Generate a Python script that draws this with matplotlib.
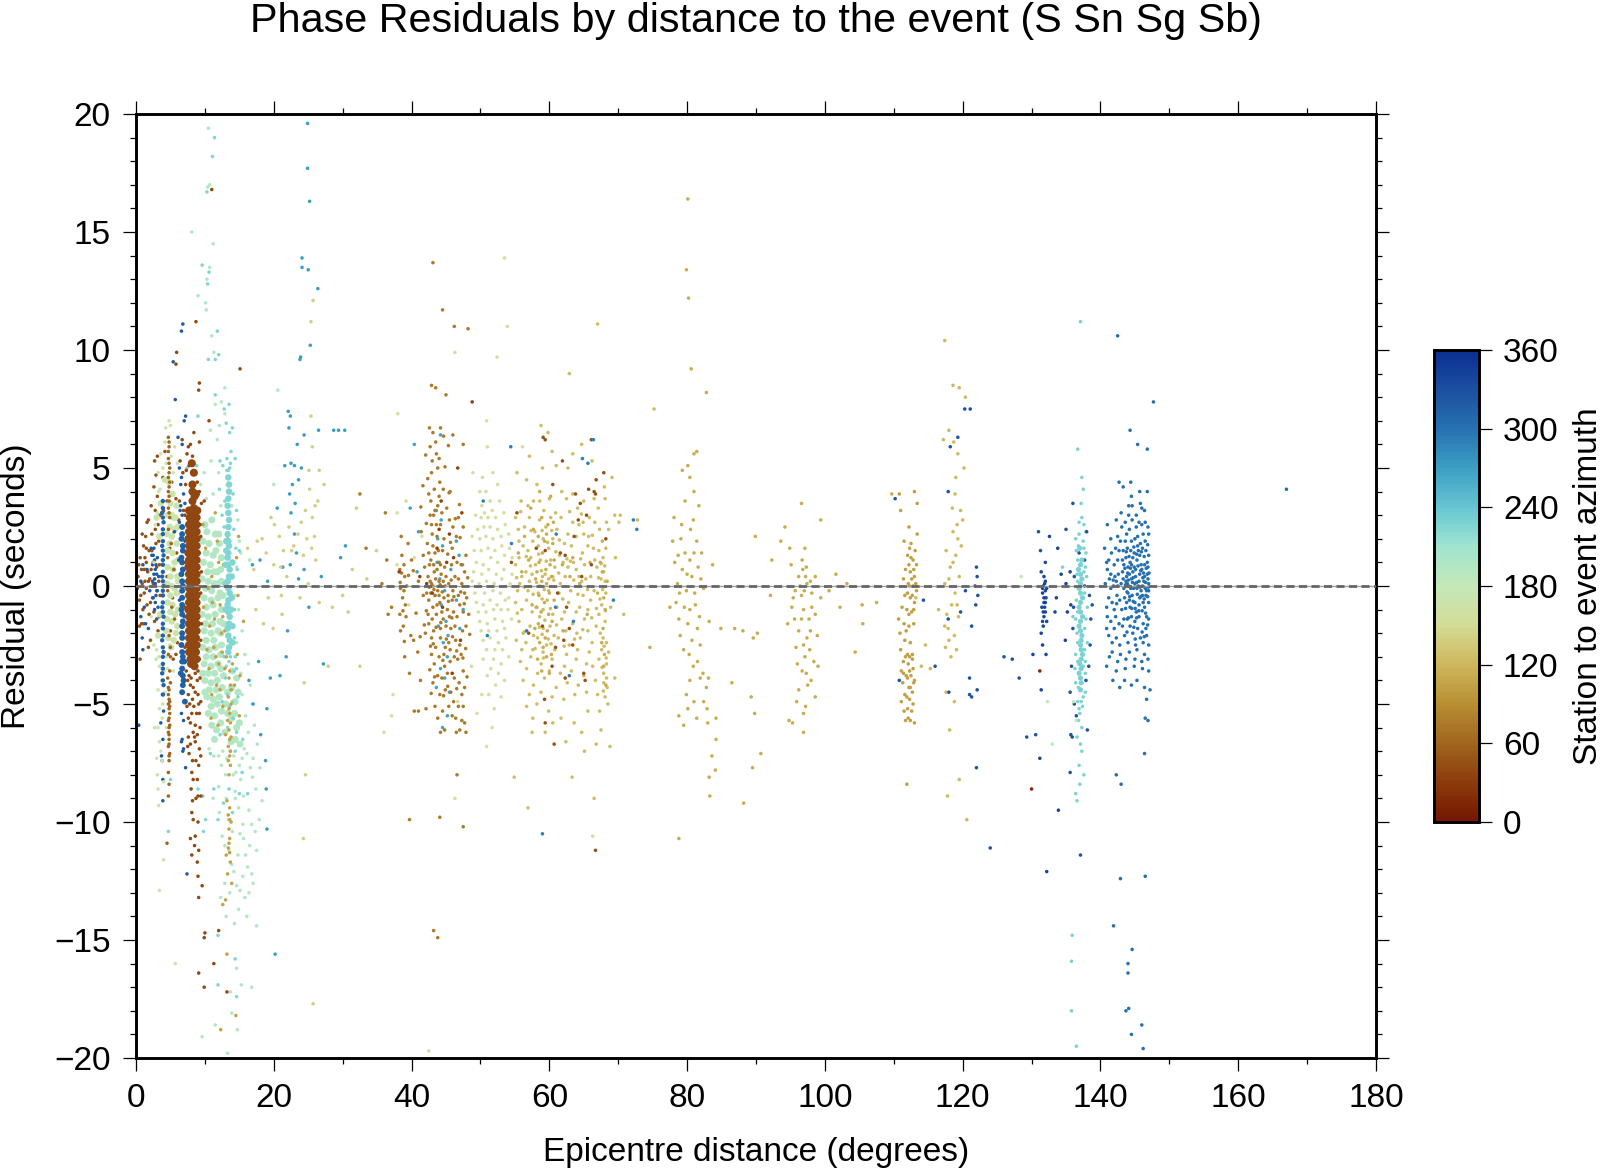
#!/usr/bin/env python3
import numpy as np
import matplotlib
matplotlib.use("Agg")
import matplotlib.pyplot as plt
from matplotlib.colors import LinearSegmentedColormap
from matplotlib.ticker import MultipleLocator

plt.rcParams["font.family"] = ["Liberation Sans", "DejaVu Sans"]

# colours, bottom to top
cbar_colors = ["#761500", "#8c3c0c", "#a0661e", "#b98f33", "#ceb75c", "#d3dc96",
               "#c5e8b8", "#a0e5d0", "#66c6d4", "#3d9fc4", "#2672b0", "#1c50a0", "#0a2f92"]
cbar_ticks = [0, 60, 120, 180, 240, 300, 360]

# (distance deg, residual s), one list per azimuth group
brown_core = [(8.7, 3.9), (8.2, 3.6), (7.7, 3.2), (8.4, 3.0), (8.9, 3.2), (7.7, 2.6), (8.3, 2.4), (8.8, 2.6),
              (7.6, 2.0), (8.2, 1.8), (8.8, 2.0), (7.6, 1.4), (8.2, 1.3), (8.8, 1.4), (7.6, 0.8), (8.2, 0.7),
              (8.8, 0.8), (7.7, 0.2), (8.3, 0.1), (8.8, 0.2), (7.7, -0.4), (8.2, -0.5), (8.8, -0.4), (7.6, -1.0),
              (8.2, -1.1), (8.8, -1.0), (7.7, -1.6), (8.3, -1.7), (8.8, -1.6), (7.7, -2.2), (8.2, -2.3), (8.7, -2.2),
              (7.7, -2.8), (8.2, -2.9), (8.7, -2.8), (8.0, -3.3), (8.5, -3.4), (8.2, 4.3), (8.4, 4.8), (8.1, 5.2)]
brown_core_b = [(7.8, 2.9), (8.3, 2.8), (8.8, 2.9), (7.7, 2.3), (8.3, 2.1), (8.8, 2.3), (7.7, 1.7), (8.3, 1.6), (8.8, 1.7),
                (7.7, 1.1), (8.3, 1.0), (8.8, 1.1), (7.7, 0.5), (8.3, 0.4), (8.8, 0.5), (7.7, -0.1), (8.3, -0.2), (8.8, -0.1),
                (7.7, -0.7), (8.3, -0.8), (8.8, -0.7), (7.7, -1.3), (8.3, -1.4), (8.8, -1.3), (7.7, -1.9), (8.3, -2.0), (8.8, -1.9),
                (7.7, -2.5), (8.3, -2.6), (8.8, -2.5), (7.9, -3.1), (8.4, -3.1), (8.8, -3.1), (8.4, 3.3), (8.5, 3.8), (8.2, 4.0)]
brown_loose = [(7.4, 5.6), (7.7, 5.1), (8.2, 5.5), (6.8, 4.8), (7.2, 4.3), (9.5, 3.5), (9.9, 3.6), (6.7, 6.2),
               (9.2, 6.1), (8.4, 6.5), (7.9, 6.0), (6.4, 5.3), (7.6, 5.9), (6.3, 3.6), (6.9, 3.2), (9.3, 2.6),
               (9.2, 1.4), (9.4, -0.3), (9.5, -1.6), (9.2, -3.1), (9.0, -3.6), (8.6, -3.7), (7.7, -3.8), (7.5, -4.0),
               (7.9, -4.2), (8.3, -4.3), (8.9, -4.0), (9.0, -4.6), (8.2, -4.8), (7.8, -5.0), (7.4, -5.1), (9.4, -4.9),
               (8.4, -5.1), (9.2, -5.4), (8.6, -5.9), (7.9, -5.8), (8.3, -6.2), (7.6, -6.4), (8.9, -6.3), (7.5, -6.8),
               (8.6, -6.6), (9.2, -6.9), (7.7, -7.1), (8.2, -7.4), (8.7, -7.4), (9.1, -7.6), (8.9, -8.2), (8.3, -8.2),
               (8.0, -8.6), (9.0, -8.9), (9.4, -8.9), (8.7, -9.0), (8.2, -9.1), (8.1, -9.6), (8.3, -9.9), (9.0, -10.0),
               (7.9, -10.7), (8.6, -10.6), (8.5, -11.0), (8.1, -11.4), (9.1, -11.2), (8.9, -11.7), (9.0, -12.3), (9.6, -12.7),
               (9.1, -13.2), (9.9, -14.9), (10.0, -14.7), (9.1, -16.4), (9.9, -17.0), (11.3, -16.0), (13.2, -17.2), (12.0, -14.6),
               (9.2, 8.6), (8.7, 11.2), (11.0, 16.8), (10.6, 7.0), (5.9, 9.9), (5.8, 9.4), (15.1, 9.2), (9.1, 8.3),
               (7.3, 4.9), (8.9, 4.4), (9.2, 4.0), (7.1, 3.0), (9.4, 2.1), (9.5, 0.6), (7.2, 1.0), (7.1, -0.9),
               (7.1, -2.6), (9.4, -2.3), (7.3, -3.6), (9.3, -3.9), (8.0, -3.9), (8.6, -4.5), (7.6, -4.6), (9.1, -5.0),
               (8.1, -5.4), (8.8, -5.4), (7.6, -5.6), (9.3, -6.0), (8.5, -6.4), (7.9, -6.7), (9.4, -7.2), (8.1, -7.9)]
brown_edge = [(0.2, -0.1), (0.3, 0.4), (0.5, -0.6), (0.6, 1.2), (0.8, 0.7), (1.0, -1.0), (1.1, 1.7), (1.2, -0.3),
              (1.4, 2.1), (1.5, 1.0), (1.6, -0.8), (1.8, 2.8), (1.9, -1.2), (2.0, 0.3), (2.2, 3.4), (2.3, 1.5),
              (2.4, -0.5), (2.6, 4.2), (2.7, -1.5), (2.8, 2.4), (3.0, 0.8), (3.1, 3.8), (3.2, -1.9), (3.3, 1.9),
              (3.5, -0.4), (2.1, -2.3), (0.6, -3.1), (0.5, -1.7), (1.8, -2.6), (2.7, 5.3), (3.1, 5.5), (3.9, 4.6),
              (4.0, 3.2), (4.2, 5.7), (1.6, 2.7), (0.9, 2.2), (2.9, 4.7), (1.3, 0.2), (2.5, 0.1), (3.4, 0.9),
              (0.4, 0.9), (0.7, -0.4), (0.9, 0.1), (1.1, -1.6), (1.3, 1.2), (1.5, -0.1), (1.7, 0.6), (1.9, 1.5),
              (2.1, -0.7), (2.3, 2.2), (2.5, 1.0), (2.6, -1.1), (2.8, 3.2), (3.0, -0.2), (3.2, 2.6), (3.4, -1.3),
              (3.5, 3.0), (1.5, 1.6), (1.8, 0.2), (2.2, 0.7), (2.9, 1.8), (3.3, 0.2), (0.8, -1.6), (1.2, 0.7),
              (4.5, 0.4), (5.3, -0.5), (5.9, 1.4), (4.9, 1.6), (6.1, -0.3), (5.5, 2.3), (6.2, 2.8), (5.0, -1.9),
              (5.8, 3.7), (5.2, 4.4), (4.5, 3.6), (6.0, -2.4), (5.4, -3.1), (5.8, -2.9)]
thin_brown = [(4.7, 6.3), (4.8, 5.9), (4.7, 5.4), (4.9, 5.0), (4.7, 4.6), (4.8, 4.2), (4.8, 3.8), (4.7, 3.3),
              (4.9, 2.9), (4.7, 2.4), (5.1, 1.8), (4.6, 1.2), (5.5, 0.7), (4.6, -0.2), (5.2, -0.9), (5.6, -1.4),
              (4.8, -2.1), (5.0, -2.6), (4.7, -2.9), (5.0, -3.0), (4.9, -3.6), (4.6, -3.9), (5.0, -4.1), (4.8, -4.4),
              (4.7, -4.6), (4.9, -4.9), (4.7, -5.0), (4.8, -5.2), (4.9, -5.4), (4.7, -5.7), (4.9, -5.9), (4.7, -6.2),
              (4.8, -6.5), (4.7, -6.8), (4.9, -7.1), (4.8, -7.4), (4.7, -7.9), (4.8, -8.4), (4.7, -8.9), (4.5, -10.9),
              (4.8, 6.1), (4.7, 5.7), (4.8, 5.2), (4.8, 4.8), (4.9, 4.4), (4.7, 4.0), (4.8, 3.6), (4.8, 3.1),
              (4.7, -4.3), (4.8, -4.8), (4.9, -5.1), (4.8, -5.6), (4.8, -6.0), (4.8, -6.3), (4.8, -6.7), (4.8, -7.2)]
blue_near = [(3.9, 3.6), (3.8, 3.1), (4.0, 2.7), (3.9, 2.2), (3.8, 1.7), (4.0, 1.3), (3.9, 0.9), (3.8, 0.4),
             (4.0, 0.0), (3.9, -0.4), (3.8, -0.9), (4.0, -1.3), (3.9, -1.8), (3.8, -2.3), (4.0, -2.8), (3.9, -3.3),
             (3.8, -3.7), (4.0, -4.2), (3.9, -4.6), (3.9, 3.3), (3.9, 2.9), (3.9, 2.4), (3.9, 1.9), (3.9, 1.5),
             (3.9, 1.1), (3.9, 0.6), (3.9, 0.2), (3.9, -0.2), (3.9, -0.7), (3.9, -1.1), (3.9, -1.6), (3.9, -2.1),
             (3.9, -2.6), (3.9, -3.0), (3.9, -3.5), (3.9, -4.0)]
blue_scatter = [(3.0, 0.5), (2.9, -0.4), (3.1, 1.2), (2.8, 0.1), (2.7, -1.0), (1.6, 0.7), (1.4, -1.6), (0.7, 0.2),
                (1.0, 0.9), (1.2, -0.9), (0.9, -2.2), (0.7, -1.3), (2.2, 1.6), (2.0, -0.2), (2.4, 0.9), (2.7, 1.1),
                (1.8, -1.8), (1.0, -2.7), (2.3, 1.3), (3.3, 0.4), (3.2, -0.9), (4.0, -5.3), (3.9, -6.5), (3.8, -7.4),
                (3.9, -8.2), (3.7, -7.2), (3.9, -9.1), (3.6, -5.8), (0.4, -5.9), (2.7, 0.3), (2.5, -0.5), (2.9, 0.9),
                (3.0, -1.4), (2.6, 1.6), (2.8, -0.7), (2.6, 0.5), (2.4, 0.2), (2.8, 0.7), (3.1, -0.2), (2.5, 1.3)]
blue_mid = [(6.7, 2.5), (6.6, 2.0), (6.8, 1.5), (6.7, 1.0), (6.6, 0.5), (6.8, 0.0), (6.7, -0.5), (6.6, -1.0),
            (6.8, -1.5), (6.7, -2.0), (6.6, -2.5), (6.8, -3.0), (6.7, -3.5), (6.9, -4.0), (6.7, -4.5), (7.1, -4.9),
            (6.7, 2.2), (6.8, 1.7), (6.6, 1.2), (6.8, 0.7), (6.7, 0.2), (6.7, -0.2), (6.7, -0.8), (6.7, -1.2),
            (6.7, -1.7), (6.7, -2.2), (6.7, -2.8), (6.7, -3.2), (6.8, -3.8), (6.8, -4.2), (6.5, -3.7), (7.0, -3.2)]
blue_mid_loose = [(6.5, 4.3), (6.6, 4.6), (6.3, 5.0), (6.9, 3.9), (6.4, 3.2), (6.1, 6.3), (6.7, 6.0), (7.0, 7.0),
                  (7.2, 7.2), (5.7, 7.9), (7.1, 3.5), (6.6, -5.4), (6.9, -5.7), (6.7, -6.5), (6.6, -6.6), (6.8, -7.0),
                  (7.2, -7.7), (5.4, 9.5), (6.6, 10.8), (6.8, 11.1), (7.4, -12.2), (6.9, -6.9), (6.2, 1.1), (6.3, -0.6),
                  (6.3, 2.7), (7.1, 1.9), (7.0, -1.3), (5.6, 2.3), (6.5, 3.4), (6.7, 3.0)]
pale_green = [(4.8, 4.4), (5.3, 3.9), (5.9, 3.4), (4.6, 3.0), (5.4, 2.9), (6.0, 2.5), (4.5, 2.2), (5.2, 2.1),
              (5.9, 1.8), (4.6, 1.5), (5.3, 1.4), (6.1, 1.1), (4.6, 0.8), (5.4, 0.7), (6.0, 0.4), (4.5, 0.1),
              (5.2, 0.0), (5.9, -0.3), (4.6, -0.7), (5.3, -0.8), (6.1, -1.0), (4.5, -1.4), (5.2, -1.5), (6.0, -1.7),
              (4.7, -2.2), (5.5, -2.3), (3.5, -1.2), (3.2, -2.1), (3.4, 2.1), (3.0, 2.9), (3.6, 3.5), (4.2, 4.5),
              (5.0, 3.5), (5.7, 2.9), (4.9, 2.5), (5.6, 2.4), (4.9, 1.8), (5.6, 1.0), (5.0, 0.4), (5.6, -0.1),
              (5.0, -0.4), (5.7, -1.2), (5.0, -1.1), (5.1, -2.6), (5.8, -2.0), (4.4, -1.9), (5.2, 3.0), (6.1, 0.2)]
pale_loose = [(4.3, 6.7), (5.0, 6.8), (4.2, 6.1), (3.6, 5.6), (4.8, 7.0), (5.6, 5.9), (6.0, 5.2), (3.2, 4.8),
              (3.1, 3.1), (2.8, 2.6), (3.5, 4.1), (2.6, -2.5), (2.9, -3.1), (3.4, -3.4), (3.9, -5.0), (3.2, -4.4),
              (4.1, -3.6), (4.4, -3.0), (3.2, -6.0), (3.4, -6.6), (3.0, -7.3), (3.6, -7.0), (3.8, -7.4), (4.0, -8.3),
              (3.1, -8.0), (3.3, -9.3), (3.2, -8.6), (4.0, -11.6), (3.4, -12.9), (5.7, -16.0), (2.7, -6.0), (3.8, -5.6),
              (4.4, 5.2), (5.1, 5.5), (5.4, 4.8), (3.9, 5.0), (3.3, 4.0), (2.6, 1.0), (2.2, -1.3), (3.0, -2.7),
              (3.3, -3.0), (4.6, -3.5), (4.9, -2.5), (5.4, -3.6), (4.2, -4.5), (3.4, -5.2), (3.7, -4.0), (4.4, -6.0)]
pale_aqua = [(10.0, 2.6), (11.0, 2.8), (12.0, 2.2), (9.7, 1.9), (10.6, 1.8), (11.6, 1.5), (12.4, 1.2), (9.8, 1.0),
             (10.8, 0.9), (11.8, 0.6), (9.6, 0.3), (10.5, 0.2), (11.4, 0.1), (12.4, 0.2), (9.9, -0.5), (10.9, -0.6),
             (11.9, -0.5), (9.6, -1.2), (10.5, -1.3), (11.5, -1.2), (12.4, -1.0), (9.9, -1.9), (10.9, -2.0), (11.9, -1.9),
             (9.7, -2.6), (10.6, -2.7), (11.5, -2.6), (12.4, -2.5), (9.9, -3.3), (10.9, -3.4), (11.9, -3.3), (10.0, -4.0),
             (10.9, -4.1), (11.8, -4.0), (12.7, -3.8), (10.3, -4.7), (11.2, -4.8), (12.1, -4.7), (13.9, -4.3), (10.5, -5.4),
             (11.4, -5.5), (12.4, -5.3), (14.4, -4.9), (13.9, -5.6), (14.6, -6.0), (11.7, -6.1), (13.8, -6.6), (15.1, -6.7)]
pale_aqua_b = [(10.3, 2.3), (11.5, 2.2), (10.2, 1.4), (11.2, 1.3), (12.1, 1.8), (10.4, 0.6), (11.3, 0.6), (12.3, 0.7),
               (10.1, -0.1), (11.0, -0.2), (11.9, 0.1), (12.6, -0.4), (10.2, -0.9), (11.2, -0.8), (12.2, -0.3), (10.1, -1.6),
               (11.1, -1.6), (12.2, -1.5), (12.7, -1.6), (10.2, -2.3), (11.3, -2.3), (12.3, -2.0), (10.2, -3.0), (11.2, -3.0),
               (12.3, -2.9), (9.7, -3.7), (10.5, -3.7), (11.4, -3.7), (12.3, -3.5), (10.6, -4.4), (11.6, -4.4), (12.5, -4.3),
               (10.0, -4.5), (10.9, -5.1), (11.8, -5.0), (13.0, -5.0), (11.0, -5.9), (12.3, -5.8), (13.3, -5.4), (14.3, -5.4),
               (15.0, -5.8), (14.4, -6.5), (12.9, -6.2), (11.4, -6.5), (13.3, -4.5), (14.0, -3.6), (14.6, -3.9), (14.8, -4.5)]
pale_fine = [(9.4, 4.3), (10.2, 3.7), (11.2, 3.9), (12.3, 3.4), (12.0, 4.8), (10.9, 5.3), (11.8, 6.2), (10.8, 6.6),
             (12.9, 7.3), (9.9, 4.8), (13.9, 3.4), (14.8, 2.8), (15.2, 1.4), (15.0, 1.9), (16.5, 1.1), (14.6, 0.8),
             (13.2, -7.3), (12.6, -7.0), (14.2, -7.2), (15.4, -7.3), (16.1, -7.1), (15.0, -7.6), (12.4, -7.6), (10.6, -6.9),
             (11.3, -7.2), (14.5, -7.9), (16.6, -7.7), (15.2, -8.2), (16.9, -8.1), (14.4, -8.7), (15.6, -8.9), (13.1, -9.0),
             (12.0, -8.5), (11.2, -9.0), (14.9, -9.4), (16.4, -9.5), (15.5, -10.1), (13.4, -9.9), (12.1, -9.6), (14.0, -10.4),
             (15.6, -10.7), (16.5, -11.0), (12.5, -10.6), (14.8, -11.4), (13.5, -11.2), (16.2, -11.9), (15.5, -12.3), (14.2, -12.1),
             (13.6, -13.0), (15.1, -12.9), (16.8, -12.2), (12.9, -12.6), (14.9, -13.7), (15.8, -13.2), (13.1, -14.0), (16.4, -13.0),
             (12.3, -13.2), (17.0, -12.6), (14.3, -14.3), (14.6, -16.2), (15.3, -16.9), (13.7, -17.2), (16.8, -17.0), (11.5, -18.6),
             (14.7, -18.8), (13.3, -19.8), (9.6, -19.1), (13.9, -18.1), (10.5, 19.4), (10.4, 16.9), (10.7, 17.0), (11.2, 14.5),
             (8.1, 15.0), (10.7, 13.5), (10.3, 13.0), (9.0, 12.3), (10.1, 12.0), (10.2, 11.7), (11.0, 10.6), (11.3, 9.9),
             (12.9, 8.4), (12.4, 7.8), (11.5, 7.7), (12.1, 6.8), (20.6, 8.3), (20.0, 4.3), (14.3, -0.4), (14.9, -1.0),
             (15.4, -1.9), (14.6, -2.4), (15.8, -2.9), (16.3, -3.3), (15.2, -3.7), (16.6, -4.2), (15.4, -4.6), (16.9, -5.0),
             (15.9, -5.5), (17.2, -5.9), (16.3, -6.2), (17.6, -6.7), (15.7, -6.9), (17.0, -7.3), (18.0, -7.7), (17.4, -8.6),
             (18.3, -9.1), (17.9, -9.9), (17.3, -10.4), (16.8, -10.1), (17.5, -11.2), (13.9, -11.8), (14.4, -9.0), (15.1, -10.5),
             (13.0, -8.0), (12.0, -7.2), (14.1, -8.0), (12.9, -11.0), (15.9, -11.4), (14.6, -12.7), (16.1, -14.0), (17.5, -14.4)]
aqua_core = [(13.4, 4.6), (13.5, 4.0), (13.3, 3.4), (13.5, 2.8), (13.3, 2.2), (13.5, 1.7), (13.3, 1.2), (13.6, 0.7),
             (13.3, 0.2), (13.6, -0.3), (13.3, -0.8), (13.6, -1.3), (13.3, -1.8), (13.6, -2.3), (13.4, -2.8), (13.9, -0.5),
             (13.0, 0.9), (14.0, 1.0), (13.0, -1.0), (14.0, -1.7), (13.1, 1.9), (13.5, 4.3), (13.4, 3.7), (13.4, 3.1),
             (13.4, 2.5), (13.4, 1.9), (13.4, 1.4), (13.4, 0.9), (13.5, 0.4), (13.4, -0.1), (13.4, -0.6), (13.4, -1.1),
             (13.5, -1.6), (13.4, -2.1), (13.5, -2.6), (13.8, -1.0), (13.9, 0.4), (13.0, 0.1), (13.1, 1.5), (14.0, -2.4)]
aqua_fine = [(11.8, 10.8), (13.5, 7.7), (12.8, 7.5), (13.1, 6.9), (13.6, 6.5), (12.2, 5.3), (12.6, 5.1), (13.8, 5.7),
             (14.4, 5.4), (14.0, 6.7), (12.1, 4.1), (14.6, 3.2), (12.5, 3.0), (15.0, 1.5), (14.7, 0.7), (14.3, -2.2),
             (13.5, -3.2), (14.2, -3.6), (13.0, -3.9), (13.9, -4.4), (14.8, -4.7), (13.6, -5.1), (12.5, -4.9), (14.1, -5.6),
             (13.3, -6.0), (12.2, -6.3), (14.6, -6.2), (15.5, -6.5), (13.7, -7.0), (10.8, -7.1), (11.3, -8.6), (12.7, -9.2),
             (10.1, -9.9), (11.9, -9.9), (11.9, -14.8), (11.9, -16.9), (9.8, -10.4), (9.7, -8.9), (5.0, -8.2), (4.7, -10.4),
             (14.4, -15.8), (14.6, -17.4), (9.0, -8.6), (11.1, 18.2), (11.4, 19.0), (10.3, 16.7), (9.6, 13.6), (10.6, 13.3),
             (10.4, 12.8), (11.5, 9.6), (11.5, 8.1), (10.5, 9.6), (12.0, 9.8), (9.0, 7.2), (8.8, 5.1), (7.4, 5.0),
             (13.6, 5.0), (13.2, 4.9), (13.7, 5.2), (13.2, 5.4), (13.4, 4.9), (14.1, 3.9), (12.9, 3.6), (14.2, 2.4),
             (14.5, 1.6), (12.8, 2.5), (14.3, -1.0), (14.4, -3.0), (12.8, -3.0), (13.1, -3.4), (14.6, -3.5), (14.0, -4.9),
             (13.7, -3.0), (13.3, -4.6), (14.4, -7.0), (15.4, -7.9), (16.2, -8.8), (14.0, -9.6), (15.0, -8.8), (13.5, -8.6)]
ochre_strip = [(13.5, -3.9), (13.7, -4.2), (13.4, -4.7), (13.8, -5.0), (13.6, -5.4), (13.3, -5.7), (13.5, -6.1), (13.8, -6.4),
               (13.4, -6.8), (13.6, -7.2), (13.7, -7.6), (13.5, -8.0), (13.2, -9.1), (13.6, -9.4), (13.4, -9.7), (13.8, -10.0),
               (13.5, -10.3), (13.6, -10.7), (13.4, -11.1), (13.1, -11.4), (13.7, -11.7), (13.3, -12.2), (13.9, -12.6), (15.0, -5.5),
               (12.4, -2.0), (12.0, -3.3), (11.4, -1.4), (13.0, -1.0), (12.7, 0.9), (11.1, -0.7), (13.3, 2.0), (12.2, -4.4),
               (11.9, -5.9), (12.5, -2.8), (14.0, -3.3), (13.0, -13.3), (12.6, -13.5), (13.2, -15.6), (12.3, -18.8), (14.5, -18.2),
               (13.6, -3.6), (13.8, -4.4), (13.5, -5.2), (13.7, -5.8), (13.6, -6.5), (13.7, -7.0), (13.4, -7.4), (13.6, -9.9),
               (13.5, -10.9), (13.6, -11.3), (12.9, -1.9), (13.1, -3.0), (11.6, -3.0), (10.7, -1.7), (11.0, 0.4), (12.0, 1.0),
               (10.3, -2.7), (11.7, -4.2), (10.5, -0.1), (12.2, -0.8), (14.7, -2.9), (15.1, -3.8), (15.6, -1.5), (14.8, -0.4),
               (11.8, 1.9), (10.1, 1.6), (9.8, -0.9), (12.6, -1.3), (11.3, -2.6), (10.6, -3.5), (12.9, -3.5), (11.0, -4.6),
               (12.6, -5.1), (13.0, -6.3), (14.3, -4.2), (10.9, -5.6), (14.6, 1.2), (14.9, 2.1), (9.7, 2.6), (11.5, 3.1)]
cyan_far = [(22.1, 7.4), (22.4, 7.2), (22.2, 6.7), (21.6, 5.1), (22.5, 5.2), (23.0, 5.1), (23.4, 6.0), (24.4, 6.4),
            (24.0, 5.0), (22.7, 4.3), (23.6, 4.5), (22.3, 3.9), (23.0, 2.2), (22.5, 3.1), (24.9, 19.6), (24.9, 17.7),
            (25.2, 16.3), (24.1, 13.9), (24.1, 13.5), (25.0, 13.4), (26.4, 12.6), (23.9, 9.7), (25.3, 10.2), (23.8, 9.6),
            (20.5, 3.3), (22.0, -1.9), (21.8, -3.0), (23.3, 1.4), (22.4, 0.9), (27.2, -3.3), (26.5, 6.6), (30.3, 6.6),
            (29.4, 6.6), (28.7, 6.6), (29.7, 1.2), (30.4, 1.7), (24.4, 0.7), (18.9, -8.6), (20.2, -15.6), (19.0, -10.3),
            (18.8, -7.4), (18.1, -6.3), (17.0, -5.0), (19.0, -5.2), (17.8, -3.2), (16.4, -4.0), (19.5, -3.9), (20.9, -3.8),
            (16.9, 0.9), (18.0, 1.1), (19.1, 0.2), (21.3, 0.8), (23.6, 0.3), (25.1, -0.9), (26.9, 0.4), (23.1, 3.5)]
tan_far = [(25.4, 7.2), (25.6, 5.9), (26.6, 4.9), (27.3, 4.3), (25.2, 4.1), (26.4, 3.6), (25.6, 2.9), (24.0, 2.7),
           (25.9, 2.1), (22.9, 1.7), (21.4, 1.5), (20.0, 0.9), (21.0, 0.8), (24.3, 1.3), (26.1, 1.1), (25.0, 0.1),
           (23.8, -0.5), (26.6, -0.7), (28.5, -0.9), (30.0, -0.4), (21.2, -1.2), (25.7, 12.1), (25.4, 11.2), (24.4, -4.1),
           (20.1, 2.6), (18.3, 2.0), (18.9, 1.4), (17.1, 0.7), (18.5, -1.6), (19.2, -0.5), (24.6, -8.0), (24.3, -10.7),
           (27.9, -3.4), (25.7, -17.7), (32.5, -3.4), (33.5, 0.3), (32.0, 3.3), (34.9, 1.5), (31.4, 0.7), (30.8, -1.1),
           (24.8, 2.0), (25.5, 1.6), (24.6, 3.2), (26.0, 3.4), (25.1, 4.9), (21.9, 0.4), (22.6, 1.5), (23.5, 2.2),
           (16.2, 1.6), (17.6, 1.9), (19.6, 2.9), (20.8, 2.1), (22.2, 2.5), (17.4, -1.0), (19.9, -1.8), (21.1, -0.4)]
ochre_45 = [(42.4, 0.4), (42.9, 0.1), (43.3, 0.6), (43.8, -0.2), (44.3, 0.5), (44.9, 0.0), (45.3, -0.4), (42.5, -0.6),
            (43.1, -0.9), (43.6, -1.2), (44.1, -0.7), (44.6, -1.4), (45.2, -1.0), (42.8, 1.1), (43.4, 1.4), (44.0, 1.0),
            (44.5, 1.5), (42.3, 1.8), (43.0, 2.2), (43.7, 2.1), (44.2, 2.6), (42.7, 3.0), (43.4, 3.2), (44.0, 3.8),
            (43.3, 4.1), (42.9, 4.8), (43.8, 5.0), (43.1, 6.5), (42.6, 6.7), (43.5, 6.1), (44.2, 6.7), (42.9, 8.5),
            (43.5, 8.4), (43.1, 13.7), (44.5, 11.7), (46.2, 11.0), (48.2, 10.9), (45.0, 8.1), (46.0, 6.4), (47.5, 6.0),
            (45.6, 4.0), (46.5, 2.1), (47.2, 0.9), (47.9, 1.3), (46.3, 0.4), (47.3, 0.1), (48.0, -0.5), (45.9, -0.6),
            (46.6, -1.3), (47.5, -1.1), (48.3, -1.2), (45.7, -1.8), (46.4, -2.3), (47.0, -2.5), (42.0, -2.0), (42.9, -2.2),
            (43.5, -2.6), (44.2, -2.2), (44.9, -2.6), (45.4, -2.4), (43.3, -3.3), (44.0, -3.0), (44.8, -3.4), (45.6, -3.2),
            (46.7, -3.1), (47.5, -3.6), (43.1, -4.1), (44.4, -3.9), (45.7, -4.5), (46.9, -4.1), (47.7, -4.3), (43.4, -5.1),
            (44.5, -5.3), (45.4, -5.1), (46.4, -5.6), (47.3, -5.7), (47.7, -5.8), (44.8, -6.1), (46.5, -6.2), (47.9, -6.2),
            (47.5, -5.1), (42.1, -5.2), (41.0, -5.3), (40.4, -5.3), (39.7, -9.9), (43.2, -14.6), (43.8, -14.9), (44.1, -9.8),
            (46.6, -8.0), (47.5, -10.2), (41.0, 0.2), (39.5, 1.8), (38.9, 0.9), (38.4, -0.1), (38.7, -0.5), (38.3, -1.2),
            (39.2, -1.3), (38.5, 2.1), (36.4, 1.1), (37.1, -0.9), (36.6, -1.2), (35.7, 0.1), (39.9, -2.1), (40.3, -2.3),
            (40.9, -2.8), (39.7, -3.7), (39.0, -3.0), (41.3, -4.0), (36.2, 3.1), (32.5, 3.9), (33.4, 1.6)]
ochre_45_b = [(42.7, 0.2), (43.1, 0.0), (43.5, 0.3), (44.0, 0.2), (44.6, 0.2), (45.0, 0.4), (42.2, -0.3), (42.8, -0.3),
              (43.4, -0.4), (44.0, -0.4), (44.7, -0.5), (45.4, 0.1), (42.4, -1.2), (43.0, -1.4), (43.7, -0.8), (44.4, -1.1),
              (45.0, -1.7), (45.5, -1.3), (42.6, 0.9), (43.2, 0.9), (43.7, 0.7), (44.2, 0.9), (44.8, 0.8), (42.5, 1.4),
              (43.1, 1.7), (43.9, 1.5), (44.7, 2.0), (42.9, 2.6), (43.6, 2.6), (44.4, 3.1), (42.8, 3.6), (43.8, 3.4),
              (42.5, 3.9), (43.2, 3.0), (44.1, 4.4), (43.0, 5.3), (43.6, 5.6), (42.7, 5.9), (44.0, 5.4), (44.6, 4.1),
              (45.1, 3.3), (45.5, 2.8), (46.0, 2.5), (46.8, 2.9), (47.5, 2.5), (45.9, 1.6), (46.6, 1.0), (47.7, 0.6),
              (45.8, 0.9), (46.8, 0.3), (46.0, -0.2), (46.8, -0.4), (47.7, -0.3), (46.1, -1.1), (47.0, -0.8), (47.9, -1.7),
              (45.6, -2.7), (46.3, -1.7), (47.4, -1.9), (46.2, -3.0), (47.2, -2.9), (44.2, -1.8), (43.2, -1.9), (42.5, -1.6),
              (42.9, -2.9), (43.8, -3.8), (44.7, -2.9), (45.2, -3.7), (46.2, -3.9), (47.3, -4.6), (44.1, -4.6), (44.9, -4.4),
              (46.1, -4.9), (46.8, -5.1), (43.8, -5.6), (45.9, -5.5), (47.0, -6.1), (44.2, -6.2), (39.0, 0.4), (38.6, 1.3),
              (39.1, -0.8), (38.8, -1.7), (38.4, -1.9), (39.3, 0.0), (38.9, -0.2), (38.3, 0.7), (40.0, 1.1), (41.7, 1.3)]
ochre_45_c = [(41.4, 2.3), (41.9, 0.8), (41.7, -0.4), (42.15, -1.05), (41.85, -1.65), (42.75, -2.55), (41.35, 3.35), (42.15, 2.65),
              (41.65, 4.25), (42.35, 4.55), (45.25, 1.35), (45.65, 1.85), (46.35, 2.85), (47.05, 2.05), (46.95, 3.45), (45.45, 3.95),
              (44.85, 5.05), (45.35, 5.95), (44.65, 6.35), (42.05, 5.55), (44.15, 0.05), (44.45, -0.25), (43.25, -0.15), (42.55, -0.05),
              (45.75, 0.25), (46.15, -0.45), (47.15, -0.25), (47.65, -0.75), (48.15, 0.35), (48.45, -2.05), (47.85, -2.65), (46.55, -2.75),
              (45.35, -0.65), (45.85, -1.35), (44.25, -1.55), (43.55, -1.75), (43.15, -2.45), (44.55, -3.15), (45.05, -2.25), (45.95, -2.15),
              (43.35, -3.85), (42.65, -3.55), (44.65, -4.65), (45.25, -4.25), (46.55, -4.35), (47.45, -3.05), (48.05, -3.85), (42.85, -4.55),
              (41.25, -2.15), (40.65, -1.15), (40.25, 0.65), (39.55, 0.45), (38.75, -1.05), (38.35, 0.15), (38.55, 0.55), (38.95, -2.35)]
dark_45 = [(43.7, 1.6), (45.5, 2.2), (47.3, 3.1), (46.1, 1.2), (42.2, 0.1), (47.1, -2.3), (45.9, -3.7), (48.8, 7.8),
           (46.7, 5.0), (44.3, 3.6), (41.2, 0.4), (38.2, 0.6), (43.0, -0.3), (44.5, -0.9), (45.1, 1.0), (44.0, 2.4)]
cyan_45 = [(43.7, 1.0), (44.1, 0.3), (44.5, 1.7), (43.4, -0.4), (44.3, -0.8), (45.0, -1.5), (44.8, -0.2), (43.9, -1.7),
           (44.6, -2.4), (45.2, -3.0), (44.2, -3.5), (45.3, -2.1), (44.8, -3.9), (43.6, -4.3), (45.5, -4.5), (45.2, -5.5),
           (44.5, -6.0), (43.8, 2.0), (44.3, 2.8), (43.6, 3.2), (45.7, 0.7), (47.4, 0.9), (46.9, 1.3), (46.5, -0.6),
           (47.5, -1.0), (47.0, -1.8), (46.5, 1.9), (40.4, 6.0), (44.2, 6.4), (41.0, 2.3), (40.8, 0.6), (39.8, 3.3)]
pale_52 = [(50.9, 7.0), (51.0, 5.9), (50.3, 4.6), (51.8, 4.8), (49.9, 4.0), (50.8, 4.0), (51.4, 3.6), (49.3, 3.0),
           (50.1, 2.9), (51.1, 2.9), (52.2, 2.9), (53.4, 3.1), (48.8, 2.1), (49.9, 2.0), (50.8, 2.1), (51.8, 2.0),
           (53.0, 2.1), (54.1, 2.2), (49.4, 1.0), (50.4, 0.9), (51.5, 1.2), (52.5, 1.0), (53.5, 1.3), (54.6, 1.2),
           (48.8, 0.2), (49.8, 0.1), (50.9, 0.2), (52.0, 0.1), (53.1, 0.3), (54.3, 0.1), (49.4, -0.7), (50.4, -0.8),
           (51.4, -0.6), (52.4, -0.8), (53.6, -0.6), (49.9, -1.5), (51.0, -1.6), (52.1, -1.4), (53.2, -1.5), (54.5, -1.4),
           (50.4, -2.3), (51.4, -2.2), (52.6, -2.4), (53.7, -2.2), (51.9, -3.1), (53.0, -3.3), (54.1, -3.0), (51.0, -3.8),
           (52.2, -4.2), (53.5, -4.0), (50.9, -6.8), (52.0, -5.2), (41.5, 2.1), (40.4, 1.2), (39.2, 3.6), (37.9, 0.9),
           (36.0, -6.2), (38.0, 7.3), (46.3, 9.9), (37.9, 3.1), (39.6, -0.8), (37.3, -4.6), (46.3, -9.0), (37.1, -5.5),
           (52.4, 9.7), (53.5, 13.9), (53.9, 11.0), (48.7, -3.4), (46.7, -4.9), (42.5, -19.7), (66.3, -10.6), (56.1, 5.9),
           (50.2, 3.4), (50.6, 3.1), (51.7, 3.2), (52.8, 3.6), (49.6, 2.4), (50.5, 2.5), (51.4, 2.5), (52.5, 2.4),
           (53.6, 2.6), (49.1, 1.5), (50.1, 1.5), (51.1, 1.6), (52.1, 1.5), (53.1, 1.7), (54.2, 1.6), (49.0, 0.6),
           (50.2, 0.5), (51.2, 0.7), (52.3, 0.5), (53.4, 0.7), (54.6, 0.5), (49.2, -0.3), (50.6, -0.3), (51.8, -0.2),
           (52.9, -0.3), (54.1, -0.5), (49.7, -1.1), (50.8, -1.1), (51.9, -1.0), (53.0, -1.0), (54.0, -1.0), (50.1, -1.9),
           (51.2, -1.9), (52.4, -1.9), (53.5, -1.8), (50.9, -2.7), (52.1, -2.7), (53.2, -2.7), (50.4, -3.1), (51.5, -3.5),
           (52.6, -3.7), (50.2, -4.6), (51.2, -4.6), (53.0, -4.7), (49.5, -5.4), (51.7, -6.0), (48.9, 4.8), (52.5, 4.3)]
yellow_60 = [(55.3, 4.8), (56.7, 4.5), (58.2, 4.3), (59.8, 6.5), (60.4, 5.7), (57.7, 3.6), (59.2, 3.2), (60.9, 3.1),
             (62.5, 3.7), (64.1, 3.3), (65.8, 2.9), (67.1, 3.3), (68.0, 4.2), (55.1, 2.9), (56.4, 2.5), (57.9, 2.3),
             (59.5, 2.5), (61.1, 2.4), (62.7, 2.2), (64.3, 2.6), (65.7, 2.1), (67.3, 2.4), (55.6, 1.9), (56.9, 1.5),
             (58.4, 1.7), (59.9, 1.6), (61.5, 1.3), (63.2, 1.7), (64.8, 1.4), (66.4, 1.6), (68.2, 1.6), (55.1, 0.9),
             (56.6, 0.6), (58.0, 0.9), (59.4, 0.5), (60.8, 0.8), (62.3, 0.4), (63.9, 0.7), (65.3, 0.3), (66.9, 0.8),
             (67.9, 0.6), (55.7, 0.1), (57.1, 0.2), (58.6, 0.0), (59.9, 0.3), (61.6, 0.1), (64.7, 0.2), (68.1, 0.2),
             (55.1, -0.7), (56.7, -0.6), (58.2, -0.9), (59.7, -0.6), (61.1, -0.9), (62.8, -0.7), (64.4, -0.9), (66.0, -0.6),
             (67.6, -0.8), (55.6, -1.5), (57.2, -1.7), (58.6, -1.3), (60.1, -1.7), (61.8, -1.4), (63.4, -1.6), (65.1, -1.4),
             (66.8, -1.7), (68.1, -1.5), (55.2, -2.3), (56.6, -2.4), (58.3, -2.2), (59.6, -2.5), (61.3, -2.2), (62.9, -2.5),
             (64.5, -2.2), (66.2, -2.4), (67.8, -2.2), (55.8, -3.2), (57.3, -3.0), (58.8, -3.3), (60.4, -3.1), (62.2, -3.4),
             (63.9, -3.1), (65.4, -3.3), (67.2, -3.1), (68.3, -3.3), (56.2, -4.0), (57.7, -4.2), (59.3, -3.9), (61.0, -4.3),
             (62.6, -4.1), (64.2, -4.2), (66.7, -4.0), (67.9, -4.1), (56.7, -5.1), (58.2, -5.0), (59.9, -5.3), (61.7, -5.6),
             (63.6, -5.8), (65.6, -5.3), (67.3, -5.3), (68.5, -5.0), (57.5, -6.2), (59.4, -6.2), (62.4, -6.6), (65.1, -7.0),
             (66.8, -6.7), (54.9, -8.1), (63.3, -8.1), (66.5, -9.0), (70.8, -1.2), (69.6, 1.2), (69.5, 3.0), (70.1, 2.7),
             (69.1, 4.6), (68.9, -0.9), (68.6, -2.8), (69.5, -3.9), (68.4, -4.3), (68.8, -6.8), (64.7, 6.0), (64.9, 2.7),
             (62.7, 5.0), (62.9, 9.0), (67.0, 11.1), (58.8, 6.8), (56.9, -9.4), (70.3, 3.0), (75.2, 7.5), (72.8, 2.8)]
yellow_60_b = [(55.9, 3.6), (56.9, 3.4), (58.6, 3.6), (60.0, 3.7), (61.8, 4.0), (63.4, 3.9), (65.0, 3.6), (66.5, 3.7),
               (55.5, 2.4), (57.1, 2.9), (58.6, 2.8), (60.2, 2.9), (61.7, 2.9), (63.4, 2.7), (65.0, 2.2), (66.6, 2.7),
               (68.3, 2.7), (56.2, 1.7), (57.6, 1.9), (59.1, 2.0), (60.5, 2.0), (62.2, 1.8), (63.9, 2.1), (65.6, 1.7),
               (67.2, 1.5), (55.6, 1.2), (57.3, 1.2), (58.7, 1.1), (60.2, 1.1), (62.0, 1.0), (63.5, 1.0), (65.1, 0.9),
               (66.6, 1.1), (67.8, 1.2), (56.0, 0.4), (57.5, 0.5), (59.0, 0.4), (60.5, 0.4), (62.7, 0.8), (64.3, 0.4),
               (66.0, 0.4), (67.5, 0.3), (55.4, -0.2), (56.9, -0.2), (58.4, -0.3), (59.9, -0.2), (61.4, -0.3), (63.1, -0.2),
               (64.9, -0.4), (66.5, -0.2), (68.2, -0.3), (56.0, -1.0), (57.5, -1.1), (59.1, -1.0), (60.5, -1.2), (62.2, -1.1),
               (63.9, -1.1), (65.6, -1.0), (67.2, -1.2), (56.2, -2.0), (57.7, -2.1), (59.1, -1.8), (60.7, -2.1), (62.4, -1.9),
               (64.0, -2.0), (65.6, -1.9), (67.4, -2.0), (68.3, -2.4), (56.0, -2.7), (57.6, -2.7), (59.1, -2.8), (60.8, -2.7),
               (62.5, -2.9), (64.1, -2.7), (65.8, -2.8), (67.6, -2.7), (56.7, -3.5), (58.3, -3.7), (60.0, -3.6), (61.6, -3.7),
               (63.2, -3.6), (65.0, -3.8), (66.3, -3.4), (67.9, -3.7), (68.3, -3.9), (57.1, -4.6), (58.8, -4.5), (60.4, -4.7),
               (62.1, -4.8), (63.7, -4.6), (65.4, -4.5), (67.0, -4.6), (68.1, -4.7), (57.6, -5.6), (60.5, -5.8), (64.7, -6.2),
               (67.5, -6.1), (66.2, 5.3), (63.4, 5.6), (61.0, 5.1), (57.1, 5.5), (59.0, 5.0), (68.1, 3.7), (68.6, 2.4)]
yellow_60_c = [(67.55, 0.95), (67.75, -0.15), (68.15, -1.05), (67.95, -2.55), (67.65, -3.45), (68.25, -3.05), (67.85, -4.45), (68.05, 0.85),
               (67.35, -0.55), (67.15, 0.35), (58.15, 0.15), (58.85, 0.65), (59.25, -0.15), (59.55, 1.05), (58.45, 1.35), (59.75, 1.85),
               (58.95, -0.55), (59.35, -1.45), (58.55, -1.75), (59.85, -2.25), (58.95, -2.05), (59.15, -3.05), (60.15, -0.95), (60.65, 0.25),
               (60.95, 1.45), (61.35, 0.55), (57.65, -0.35), (57.25, 0.85), (56.35, -0.05), (56.65, 1.25), (55.25, 0.35), (61.95, -0.55),
               (62.55, 1.15), (63.55, 0.25), (63.05, 1.05), (64.55, 1.15), (64.15, -0.35), (65.55, -0.15), (66.15, -1.35), (66.85, -0.95),
               (64.85, -1.85), (63.65, -2.25), (62.15, -2.55), (61.05, -1.65), (60.25, -2.45), (57.95, -2.65), (56.35, -1.95), (55.35, -1.15),
               (55.85, 3.15), (57.35, 2.35), (58.95, 2.35), (60.35, 2.35), (61.45, 1.95), (62.95, 3.15), (64.65, 3.05), (66.25, 2.15)]
ochre_60 = [(55.5, 1.4), (56.0, 0.6), (57.0, 1.1), (58.0, 0.3), (58.5, -0.4), (59.0, 1.4), (59.5, 0.7), (60.0, -0.3),
            (57.5, -0.8), (58.8, -1.1), (59.7, -1.9), (57.9, -1.8), (59.1, -2.6), (58.3, -3.1), (60.5, 1.8), (60.3, 0.4),
            (60.7, -0.6), (56.4, 2.1), (57.7, 2.4), (58.9, 2.9), (59.3, 1.9), (59.8, 2.6), (60.6, 2.7), (61.9, 0.9),
            (63.0, 0.4), (64.4, 0.1), (65.9, 1.0), (67.0, -0.3), (57.3, 3.3), (60.2, 3.8), (58.6, 4.0), (60.0, -3.7),
            (60.3, -2.9), (62.0, -1.9), (63.4, 1.2), (65.5, -1.2), (67.4, 1.0), (67.8, -1.8), (68.0, -2.9), (68.4, 0.2),
            (58.2, 0.6), (58.9, 0.2), (59.6, 0.1), (60.1, 0.9), (58.5, 1.0), (59.3, -0.7), (58.1, -0.9), (59.9, -1.2),
            (60.4, -1.5), (58.4, -1.6), (59.4, -2.2), (58.6, -2.4), (59.6, -3.0), (58.9, -3.6), (60.7, 1.1), (59.6, 2.2),
            (58.4, 2.1), (67.7, 0.6), (67.9, -0.5), (68.1, -1.0), (67.6, -2.4), (67.9, -3.4), (68.2, -4.2), (67.7, 1.9)]
dark_60 = [(59.1, 6.3), (59.4, 6.2), (61.9, 5.3), (60.5, 4.3), (64.5, 3.5), (66.8, 4.5), (66.5, 4.0), (68.2, 2.0),
           (67.9, 4.8), (66.7, 3.9), (66.1, 0.9), (65.4, 3.0), (64.2, 2.8), (63.4, -2.5), (62.3, -3.9), (59.3, -4.8),
           (59.4, -5.8), (60.7, -6.7), (66.7, -11.2), (61.2, -0.3), (59.4, 1.5), (64.7, 0.4), (62.5, -0.9), (63.6, 2.1),
           (59.0, -1.7), (65.0, -3.7), (65.2, -4.0), (60.4, -3.4), (66.1, 6.2), (54.5, 1.0), (55.3, 3.1), (57.0, -2.0),
           (61.6, 1.4), (62.3, 1.3), (62.1, -2.3), (62.9, -1.8), (58.1, 1.6), (60.9, -2.6), (63.8, 3.9), (65.7, 4.1)]
blue_60 = [(54.4, 5.9), (50.4, 3.6), (59.0, -10.5), (66.4, 6.2), (64.8, 5.4), (65.6, 5.2), (54.5, 1.8), (61.0, 2.2),
           (56.7, -1.9), (51.0, -2.1), (62.9, -3.8), (63.5, -1.5), (72.2, 2.8), (72.7, 2.4), (60.9, -0.9), (69.3, -0.6)]
tan_80 = [(80.1, 16.4), (79.9, 13.4), (80.2, 12.2), (80.6, 9.2), (82.8, 8.2), (81.0, 5.6), (81.4, 5.7), (80.1, 5.1),
          (79.3, 4.9), (80.4, 4.6), (81.0, 4.0), (79.7, 3.6), (81.7, 3.4), (80.9, 2.8), (78.1, 2.9), (79.2, 2.6),
          (80.5, 2.4), (77.9, 1.9), (79.1, 2.0), (81.4, 1.9), (82.1, 1.4), (78.7, 1.3), (80.4, 1.1), (81.6, 0.8),
          (79.3, 0.7), (80.7, 0.4), (78.6, 0.1), (79.9, -0.2), (81.1, -0.3), (82.4, -0.1), (78.4, -0.7), (79.6, -0.9),
          (81.2, -0.8), (78.8, -1.4), (80.1, -1.6), (81.8, -1.3), (79.0, -2.1), (80.7, -2.3), (81.9, -2.5), (80.3, -2.9),
          (81.5, -3.2), (82.3, -3.7), (83.1, -3.9), (82.8, -4.3), (82.9, -5.2), (79.9, -4.6), (78.8, -5.5), (80.1, -5.2),
          (81.4, -5.6), (83.0, -5.8), (84.2, -5.6), (79.5, -5.9), (83.6, -7.2), (84.2, -6.5), (84.1, -7.8), (83.2, -8.1),
          (83.3, -8.9), (78.8, -10.7), (88.2, -9.2), (90.7, -7.1), (89.5, -7.7), (89.3, -4.7), (89.8, -5.4), (90.2, -2.0),
          (89.6, -2.2), (86.9, -1.8), (88.1, -1.9), (86.5, -4.1), (84.9, -1.8), (83.7, 0.9), (92.1, -0.4), (74.6, -2.6),
          (78.2, 1.0), (79.7, 1.4), (80.0, 0.5), (81.0, 1.4), (82.0, 0.3), (78.9, -0.3), (80.4, -1.0), (81.5, -1.8),
          (79.5, -2.7), (80.9, -3.4), (81.9, -3.9), (80.4, -4.0), (82.4, -4.9), (81.0, -4.9), (77.5, -0.9), (83.2, -1.5)]
tan_100 = [(96.6, 3.5), (94.2, 2.5), (93.6, 1.9), (99.4, 2.8), (97.1, 1.6), (94.9, 1.6), (96.7, 1.1), (95.1, 0.9),
           (97.3, 0.8), (98.6, 0.4), (96.2, 0.4), (97.4, 0.1), (95.7, -0.2), (96.6, -0.4), (98.1, -0.3), (99.4, -0.5),
           (95.2, -0.9), (96.9, -1.0), (97.7, -1.4), (98.6, -1.2), (94.6, -1.6), (96.2, -1.9), (97.4, -2.2), (98.9, -2.1),
           (95.8, -2.6), (97.1, -3.0), (98.4, -3.2), (96.7, -3.6), (99.0, -3.4), (97.5, -4.2), (96.2, -4.4), (98.6, -4.7),
           (97.2, -5.1), (96.9, -5.4), (95.3, -5.8), (96.9, -6.2), (94.8, -5.7), (104.4, -2.8), (105.5, -1.6), (102.2, -0.9),
           (100.6, -0.2), (101.6, 0.5), (103.2, 0.1), (105.4, -0.8), (107.5, -0.7), (89.9, 2.1), (92.3, 1.1), (109.7, 3.9),
           (96.8, 0.7), (97.2, 0.4), (96.4, 0.0), (97.9, 0.2), (97.0, -0.2), (95.4, -0.5), (96.6, -1.4), (98.1, -0.9),
           (95.6, -1.4), (97.9, -1.9), (96.9, -2.5), (97.8, -2.7), (96.0, -3.3), (97.3, -3.7), (98.0, -4.0), (95.9, -4.9)]
tan_112 = [(113.0, 4.0), (112.2, 2.5), (111.5, 1.9), (112.5, 1.8), (113.1, 1.5), (112.0, 1.3), (112.8, 1.1), (113.3, 0.9),
           (111.7, 0.7), (112.4, 0.6), (113.0, 0.4), (111.4, 0.3), (112.1, 0.1), (112.8, 0.0), (113.3, -0.2), (111.6, -0.4),
           (112.4, -0.5), (113.0, -0.7), (111.2, -0.9), (111.9, -1.0), (112.6, -1.1), (110.7, -1.4), (111.5, -1.6), (112.2, -1.7),
           (112.9, -1.6), (110.9, -2.0), (111.6, -2.3), (112.4, -2.4), (111.0, -2.7), (112.0, -2.9), (112.7, -2.9), (111.4, -3.2),
           (112.1, -3.3), (112.8, -3.5), (111.1, -3.6), (111.8, -3.8), (112.5, -3.8), (113.0, -4.0), (111.3, -4.1), (112.2, -4.3),
           (112.7, -4.5), (111.6, -4.6), (112.3, -4.8), (111.1, -4.9), (112.0, -5.2), (112.8, -5.0), (111.5, -5.3), (112.4, -5.7),
           (113.0, -5.8), (111.7, -5.7), (112.5, 1.2), (113.4, 2.2), (111.0, 3.2), (113.4, 3.5), (110.8, 3.9), (111.9, -8.4),
           (112.3, 1.6), (112.9, 0.7), (112.6, 0.3), (112.2, 0.9), (113.2, 0.1), (112.0, -0.3), (112.7, -0.4), (112.3, 0.0),
           (112.9, -1.0), (112.2, -1.2), (111.7, -3.0), (112.3, -3.6), (112.7, -3.1), (112.0, -3.9), (112.4, -4.3), (111.9, -4.7),
           (112.6, -5.3), (112.1, -5.6), (112.9, -4.1), (111.4, -3.7), (112.3, -3.0), (111.8, -1.9)]
tan_118 = [(117.4, 10.4), (118.6, 8.5), (119.5, 8.4), (120.4, 8.0), (117.2, 6.2), (118.0, 6.6), (118.7, 6.1), (119.3, 5.6),
           (120.2, 5.0), (119.0, 4.6), (118.9, 3.9), (119.7, 3.2), (120.0, 2.8), (118.6, 2.3), (119.3, 2.0), (117.6, 1.5),
           (119.0, 1.3), (118.2, 0.8), (119.5, 0.4), (117.4, 0.1), (118.9, -0.3), (118.4, -0.8), (117.7, -1.2), (119.4, -1.3),
           (117.9, -1.8), (118.8, -2.1), (117.5, -2.6), (118.3, -3.0), (119.1, -2.7), (117.6, -4.5), (118.8, -4.9), (119.5, -8.2),
           (117.8, -8.9), (120.6, -9.9), (118.1, -6.1), (113.2, -0.5), (114.6, -2.5), (114.0, -3.4), (115.3, -3.5), (116.5, -1.0),
           (118.5, 3.3), (119.2, 2.6), (119.8, 1.7), (118.6, 1.0), (118.0, 0.3), (119.2, -0.8), (118.0, -2.3), (117.4, -1.7)]
blue_120 = [(119.3, 6.3), (118.2, 5.9), (120.3, 7.5), (121.1, 7.5), (117.9, 4.0), (122.0, 0.8), (122.1, 0.4), (121.8, 0.0),
            (122.2, -0.4), (121.9, -0.8), (120.4, -0.2), (121.3, -1.7), (119.7, -1.1), (116.0, -3.4), (121.0, -3.9), (121.3, -4.7),
            (121.0, -4.6), (122.1, -4.4), (118.0, -4.5), (122.0, -7.7), (110.2, 3.7), (110.8, -4.0), (114.3, -0.6), (117.9, -1.4),
            (124.0, -11.1), (126.0, -3.0), (127.2, -3.1), (128.2, -3.9), (129.3, -6.4), (130.6, -6.3), (131.0, 2.3), (131.3, 1.5)]
dark_blue_132 = [(131.4, 0.6), (131.8, 0.4), (132.0, 0.2), (131.7, 0.0), (132.2, -0.1), (131.6, -0.3), (132.1, -0.5), (131.8, -0.7),
                 (131.5, -0.9), (132.0, -1.1), (131.8, -1.3), (132.2, -1.5), (131.7, -1.7), (131.4, -2.0), (131.6, -2.5), (132.1, -2.9),
                 (132.6, 2.1), (133.8, 1.6), (132.0, 1.0), (133.6, -0.5), (133.4, -1.1), (130.2, -2.9), (131.4, -4.4), (131.2, -7.3),
                 (132.2, -12.1), (133.9, -9.5), (134.3, 0.5), (135.0, 0.1), (135.2, -1.1), (134.9, -2.3), (135.6, 0.6), (135.7, -0.8),
                 (131.9, 0.1), (131.6, -0.1), (132.0, -0.2), (131.8, -0.5), (131.9, -0.9), (131.7, -1.1), (132.0, -0.7), (131.6, -1.5)]
aqua_137 = [(137.0, 1.6), (137.3, 1.1), (136.8, 0.7), (137.3, 0.3), (136.9, -0.1), (137.4, -0.5), (136.9, -0.9), (137.4, -1.3),
            (136.9, -1.7), (137.3, -2.1), (137.1, -2.5), (137.4, -2.9), (137.0, -3.3), (136.9, -3.7), (137.2, -4.1), (137.1, -4.4),
            (137.1, 0.9), (137.1, 0.5), (137.1, 0.1), (137.1, -0.3), (137.1, -0.7), (137.1, -1.1), (137.1, -1.5), (137.1, -1.9),
            (137.2, -2.3), (137.2, -2.7), (137.2, -3.1), (137.2, -3.5), (137.1, -3.9)]
aqua_fine_137 = [(137.1, 11.2), (136.7, 5.8), (137.3, 4.6), (137.5, 4.1), (137.2, 3.5), (137.3, 2.9), (136.9, 2.7), (137.6, 2.6),
                 (136.4, 2.0), (137.9, 2.3), (137.5, 1.9), (136.5, 1.5), (137.9, 1.4), (136.8, 1.7), (137.8, 0.8), (136.6, 0.5),
                 (138.0, 0.4), (136.5, -0.6), (138.1, -0.9), (136.4, -1.4), (137.9, -1.4), (136.6, -2.0), (138.1, -2.4), (136.4, -2.9),
                 (137.8, -3.2), (136.3, -3.5), (137.8, -3.7), (136.4, -4.1), (137.8, -4.5), (136.7, -4.9), (137.4, -5.1), (137.0, -5.4),
                 (136.8, -5.7), (137.3, -6.0), (136.6, -6.4), (137.1, -6.7), (137.3, -7.0), (136.9, -7.6), (137.6, -8.0), (137.0, -8.4),
                 (136.4, -8.8), (136.6, -9.1), (135.9, -14.8), (135.8, -15.9), (135.8, -18.0), (136.5, -19.5), (134.5, 0.8), (136.0, -1.3),
                 (136.9, 2.2), (137.6, 1.6), (136.7, 1.1), (137.6, 0.6), (136.7, 0.2), (137.7, -0.3), (136.7, -1.1), (137.7, -1.8),
                 (136.7, -2.4), (137.7, -2.7), (136.7, -3.2), (137.5, -3.4), (136.8, -4.3), (137.5, -4.7), (137.2, -4.9), (136.9, -5.2)]
blue_137 = [(135.0, 2.4), (136.0, 3.5), (136.2, 0.4), (137.7, 0.0), (136.1, -0.9), (138.4, -0.4), (138.8, -0.8), (136.0, -1.8),
            (136.9, 1.4), (135.8, -3.4), (138.5, -2.5), (138.3, -3.4), (137.9, -4.0), (136.2, -5.0), (138.6, -1.4), (138.0, 2.3),
            (137.7, 1.1), (135.6, -4.5), (136.5, -5.5), (138.1, -6.1), (135.9, -6.4), (135.7, -6.3), (137.1, -11.4), (135.6, -7.9)]
blue_145 = [(142.5, 10.6), (144.3, 6.6), (145.4, 6.0), (146.8, 5.8), (147.7, 7.8), (144.4, 4.4), (142.7, 4.4), (143.3, 4.2),
            (145.7, 4.0), (146.8, 4.0), (144.1, 3.4), (144.6, 3.4), (146.0, 3.3), (141.0, 2.6), (142.3, 2.8), (143.1, 2.5),
            (144.6, 2.8), (145.6, 2.7), (146.5, 2.7), (141.5, 2.0), (142.5, 2.1), (143.8, 2.2), (145.0, 2.0), (146.2, 2.2),
            (147.0, 2.2), (140.6, 1.6), (141.6, 1.4), (142.7, 1.5), (143.9, 1.6), (144.9, 1.4), (146.1, 1.6), (147.0, 1.3),
            (140.9, 1.0), (142.0, 0.9), (143.2, 1.1), (144.3, 1.0), (145.3, 1.1), (146.4, 0.9), (141.5, 0.5), (142.6, 0.5),
            (143.8, 0.4), (144.7, 0.6), (145.7, 0.5), (146.8, 0.5), (140.7, 0.1), (141.9, 0.0), (143.0, 0.1), (144.1, 0.0),
            (145.0, 0.1), (146.1, 0.0), (147.0, 0.1), (141.2, -0.5), (142.4, -0.4), (143.5, -0.5), (144.6, -0.4), (145.7, -0.5),
            (146.6, -0.4), (140.9, -0.9), (142.0, -1.0), (143.1, -1.0), (144.3, -0.9), (145.2, -1.1), (146.4, -0.9), (141.5, -1.5),
            (142.7, -1.6), (143.9, -1.4), (145.0, -1.5), (146.2, -1.6), (147.0, -1.4), (141.2, -2.1), (142.3, -2.2), (143.5, -2.1),
            (144.7, -2.0), (145.8, -2.2), (146.7, -2.1), (141.7, -2.8), (142.9, -2.9), (144.2, -2.8), (145.3, -2.7), (146.4, -2.9),
            (140.9, -3.4), (142.3, -3.6), (143.6, -3.5), (144.9, -3.4), (146.1, -3.5), (147.0, -3.6), (142.8, -4.3), (144.5, -4.2),
            (146.4, -4.3), (147.2, -4.4), (146.5, -5.6), (146.9, -5.7), (146.4, -7.1), (142.3, -8.0), (143.0, -8.4), (142.9, -12.4),
            (146.5, -12.3), (141.9, -14.4), (144.0, -16.0), (144.0, -16.4), (144.6, -15.4), (143.7, -18.0), (144.1, -17.9), (146.0, -18.6),
            (144.5, -19.0), (146.2, -19.6), (167.0, 4.1), (145.8, 1.8), (143.4, -0.1), (144.8, -0.1), (146.4, 0.4), (145.3, -0.1),
            (144.2, 0.5), (145.9, 0.9), (143.2, 0.6), (146.7, -0.2), (144.9, 0.8), (145.5, 1.5), (144.0, -0.3), (146.1, -0.4)]
blue_145_b = [(143.6, 2.7), (144.2, 2.4), (145.2, 2.5), (146.0, 2.6), (146.9, 2.5), (142.9, 1.9), (143.6, 1.9), (144.5, 1.9),
              (145.4, 2.1), (146.5, 1.9), (142.2, 1.6), (143.3, 1.5), (144.4, 1.5), (145.4, 1.7), (146.6, 1.5), (141.2, 1.1),
              (142.5, 1.1), (143.7, 1.2), (144.7, 1.2), (145.7, 1.3), (146.8, 1.0), (141.0, 0.7), (142.1, 0.4), (143.4, 0.9),
              (144.0, 0.8), (144.5, 0.9), (145.1, 0.7), (146.0, 0.7), (146.9, 0.8), (141.3, 0.3), (142.3, 0.2), (143.3, 0.3),
              (143.9, 0.1), (144.5, 0.3), (145.1, 0.4), (145.6, 0.2), (146.3, 0.2), (146.9, 0.3), (141.5, -0.1), (142.5, 0.0),
              (143.7, 0.2), (144.4, -0.1), (145.5, 0.0), (145.9, -0.2), (146.5, -0.1), (147.0, -0.2), (141.7, -0.7), (142.8, -0.6),
              (143.8, -0.7), (144.2, -0.6), (145.0, -0.7), (145.6, -0.8), (146.2, -0.7), (147.0, -0.7), (141.0, -1.3), (142.2, -1.3),
              (143.4, -1.4), (144.5, -1.3), (145.6, -1.3), (146.7, -1.3), (140.9, -1.8), (142.0, -1.8), (143.2, -1.7), (144.3, -1.7),
              (145.4, -1.8), (146.6, -1.8), (141.7, -2.4), (142.8, -2.5), (144.0, -2.4), (145.1, -2.5), (146.2, -2.4), (147.0, -2.5),
              (141.3, -3.0), (142.5, -3.2), (143.7, -3.1), (145.0, -3.1), (146.0, -3.2), (146.9, -3.1), (141.8, -4.0), (143.5, -4.0),
              (145.3, -4.0), (146.7, -4.8), (144.1, 3.0), (145.2, 3.0), (146.4, 3.2), (143.0, 3.1), (144.5, 3.8), (145.8, 3.5)]
blue_145_c = [(143.75, 1.45), (144.15, 1.25), (144.85, 1.65), (145.25, 1.35), (145.95, 1.45), (146.35, 1.25), (146.85, 1.75), (143.55, 0.75),
              (143.95, 0.55), (144.35, 0.75), (144.75, 0.35), (145.45, 0.85), (145.85, 0.65), (146.25, 0.55), (146.65, 0.75), (147.05, 0.55),
              (143.65, 0.05), (144.05, 0.25), (144.65, 0.15), (144.95, -0.05), (145.25, 0.15), (145.75, -0.05), (146.15, 0.35), (146.55, 0.15),
              (146.95, -0.05), (143.85, -0.25), (144.25, -0.45), (144.75, -0.65), (145.35, -0.35), (145.85, -0.45), (146.35, -0.55), (146.85, -0.45),
              (143.65, -0.95), (144.55, -0.95), (145.05, -0.95), (145.55, -1.05), (146.05, -1.05), (146.55, -1.15), (144.05, -1.35), (144.85, -1.75),
              (145.25, -1.35), (146.05, -1.95), (146.85, -1.65), (143.85, -1.95), (145.05, -2.25), (146.35, -2.15), (142.35, -0.75), (141.85, 0.25)]
pale_137 = [(128.5, 0.4), (136.1, -4.9), (136.5, -5.7), (132.3, -4.9), (133.0, -6.7)]
dark_130 = [(130.0, -8.6), (131.2, -3.6)]

# group, azimuth, marker area; dense columns need fat dots to close up
fine = 6.5
layers = [(brown_edge, 45, fine), (blue_scatter, 320, fine), (pale_loose, 170, fine), (pale_green, 170, 22),
          (pale_aqua, 195, 26), (pale_aqua_b, 195, 26), (pale_fine, 195, fine), (aqua_fine, 225, fine),
          (ochre_strip, 105, fine), (aqua_core, 225, 22), (blue_near, 312, 10), (blue_mid, 315, 18),
          (blue_mid_loose, 318, fine), (thin_brown, 60, fine), (brown_loose, 40, fine), (brown_core, 38, 34),
          (brown_core_b, 38, 34), (cyan_far, 270, fine), (tan_far, 140, fine), (cyan_45, 265, fine),
          (pale_52, 160, fine), (ochre_45, 75, fine), (ochre_45_b, 75, fine), (ochre_45_c, 75, fine), (yellow_60, 125, fine),
          (yellow_60_b, 125, fine), (yellow_60_c, 125, fine), (ochre_60, 112, fine), (dark_45, 35, fine), (dark_60, 45, fine),
          (blue_60, 290, fine), (tan_80, 112, fine), (tan_100, 112, fine), (tan_112, 102, fine), (tan_118, 122, fine),
          (blue_120, 325, fine), (dark_blue_132, 338, fine), (aqua_fine_137, 228, fine), (blue_137, 325, fine),
          (aqua_137, 228, 14), (blue_145, 302, fine), (blue_145_b, 302, fine), (blue_145_c, 302, fine),
          (pale_137, 185, fine), (dark_130, 15, fine)]

cmap = LinearSegmentedColormap.from_list("azimuth", cbar_colors, N=256)

fig = plt.figure(figsize=(16, 11.69), dpi=100)
ax = fig.add_axes([136 / 1600, 1 - 1058 / 1169, 1240 / 1600, 944 / 1169])

for pts, az, size in layers:
    pts = np.array(pts)
    sc = ax.scatter(pts[:, 0], pts[:, 1], c=np.full(len(pts), az), cmap=cmap, vmin=0, vmax=360,
                    s=size, linewidths=0, zorder=2)

ax.axhline(0, color="#a0a0a0", lw=1.0, zorder=3)
ax.axhline(0, color="#666666", lw=2.0, dashes=(2.9, 1.6), zorder=3)

ax.set_xlim(0, 180)
ax.set_ylim(-20, 20)
ax.xaxis.set_major_locator(MultipleLocator(20))
ax.xaxis.set_minor_locator(MultipleLocator(10))
ax.yaxis.set_major_locator(MultipleLocator(5))
ax.yaxis.set_minor_locator(MultipleLocator(1))
ax.tick_params(which="major", direction="out", length=9.2, width=0.9, labelsize=24, top=True, right=True)
ax.tick_params(axis="x", which="major", pad=8.5)
ax.tick_params(axis="y", which="major", pad=9)
ax.tick_params(which="minor", direction="out", length=4.6, width=0.9, top=True, right=True)
for s in ax.spines.values():
    s.set_linewidth(2.1)
ax.set_xlabel("Epicentre distance (degrees)", fontsize=24)
ax.xaxis.set_label_coords(0.5, -0.084)
ax.set_ylabel("Residual (seconds)", fontsize=24)
ax.yaxis.set_label_coords(-0.0835, 0.5)
fig.text(756 / 1600, 1 - 21 / 1169, "Phase Residuals by distance to the event (S Sn Sg Sb)",
         fontsize=29.8, ha="center", va="center")

cax = fig.add_axes([1434 / 1600, 1 - 822 / 1169, 45 / 1600, 472 / 1169])
cb = fig.colorbar(sc, cax=cax, ticks=cbar_ticks)
cb.outline.set_linewidth(2.1)
cb.ax.tick_params(direction="out", length=9.2, width=0.9, labelsize=24, pad=8)
cb.set_label("Station to event azimuth", fontsize=24, labelpad=10)

fig.savefig("out.png", dpi=100)
